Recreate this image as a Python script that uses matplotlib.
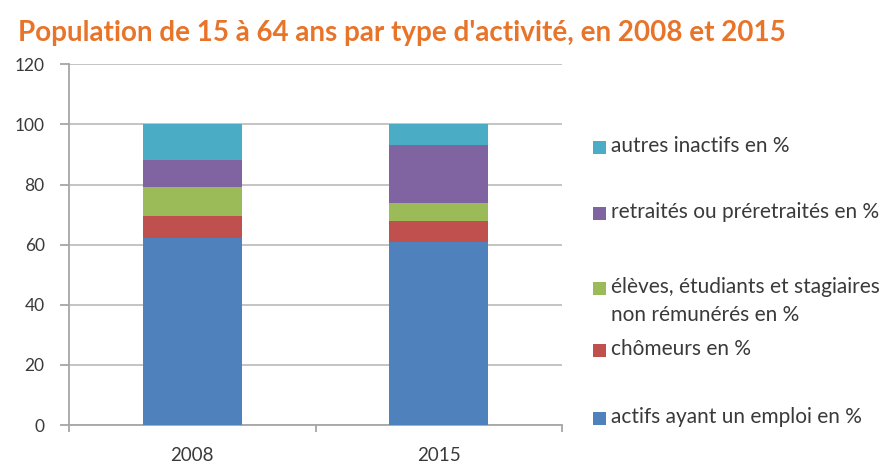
import matplotlib
matplotlib.use("Agg")
import matplotlib.pyplot as plt
import numpy as np
from matplotlib.patches import Rectangle

plt.rcParams["font.family"] = ["Lato", "DejaVu Sans"]

years = ["2008", "2015"]
categories = [
    "actifs ayant un emploi en %",
    "chômeurs en %",
    "élèves, étudiants et stagiaires\nnon rémunérés en %",
    "retraités ou préretraités en %",
    "autres inactifs en %",
]
actifs = [62.2, 60.9]
chomeurs = [7.2, 7.1]
eleves = [9.8, 5.9]
retraites = [8.9, 19.1]
autres = [11.9, 7.0]
series = [actifs, chomeurs, eleves, retraites, autres]
colors = ["#4F81BD", "#C0504D", "#9BBB59", "#8064A2", "#4BACC6"]

W, H = 890, 467
fig = plt.figure(figsize=(W / 100, H / 100), dpi=100)
ax = fig.add_axes([69 / W, 1 - 425 / H, (562 - 69) / W, (425 - 64.3) / H])

x = np.arange(len(years))
bottom = np.zeros(len(years))
for vals, col in zip(series, colors):
    ax.bar(x, vals, width=0.4, bottom=bottom, color=col, zorder=3)
    bottom += np.array(vals)

ax.set_xlim(-0.5, 1.5)
ax.set_ylim(0, 120)
ax.set_yticks(range(0, 121, 20))
ax.set_xticks(x)
ax.set_xticklabels(years)
ax.set_xticks([-0.5, 0.5, 1.5], minor=True)
ax.grid(axis="y", color="#BFBFBF", linewidth=1.3, zorder=0)

for side in ["top", "right"]:
    ax.spines[side].set_visible(False)
for side in ["left", "bottom"]:
    ax.spines[side].set_color("#A6A6A6")
    ax.spines[side].set_linewidth(1.3)

ax.tick_params(axis="y", colors="#A6A6A6", labelcolor="#3A3A3A", labelsize=12.5,
               length=6.5, width=1.3, pad=11)
ax.tick_params(axis="x", which="major", length=0, labelcolor="#3A3A3A",
               labelsize=13.5, pad=16)
ax.tick_params(axis="x", which="minor", length=5, width=1.3, colors="#A6A6A6")

fig.text(18 / W, 1 - 33 / H, "Population de 15 à 64 ans par type d'activité, en 2008 et 2015",
         color="#E8742A", fontsize=20, fontweight="bold", va="center", ha="left")

# legend drawn by hand, top entry first (row centres in pixels)
legend_rows = [147, 213, 288, 350, 418]
for label, col, yc in zip(categories[::-1], colors[::-1], legend_rows):
    fig.patches.append(Rectangle((593 / W, 1 - (yc + 6.5) / H), 13 / W, 13 / H,
                                 transform=fig.transFigure, facecolor=col,
                                 edgecolor="none"))
    fig.text(611 / W, 1 - (yc - 11) / H, label, color="#3A3A3A", fontsize=15,
             va="top", ha="left", linespacing=1.5)

fig.savefig("out.png", dpi=100)
